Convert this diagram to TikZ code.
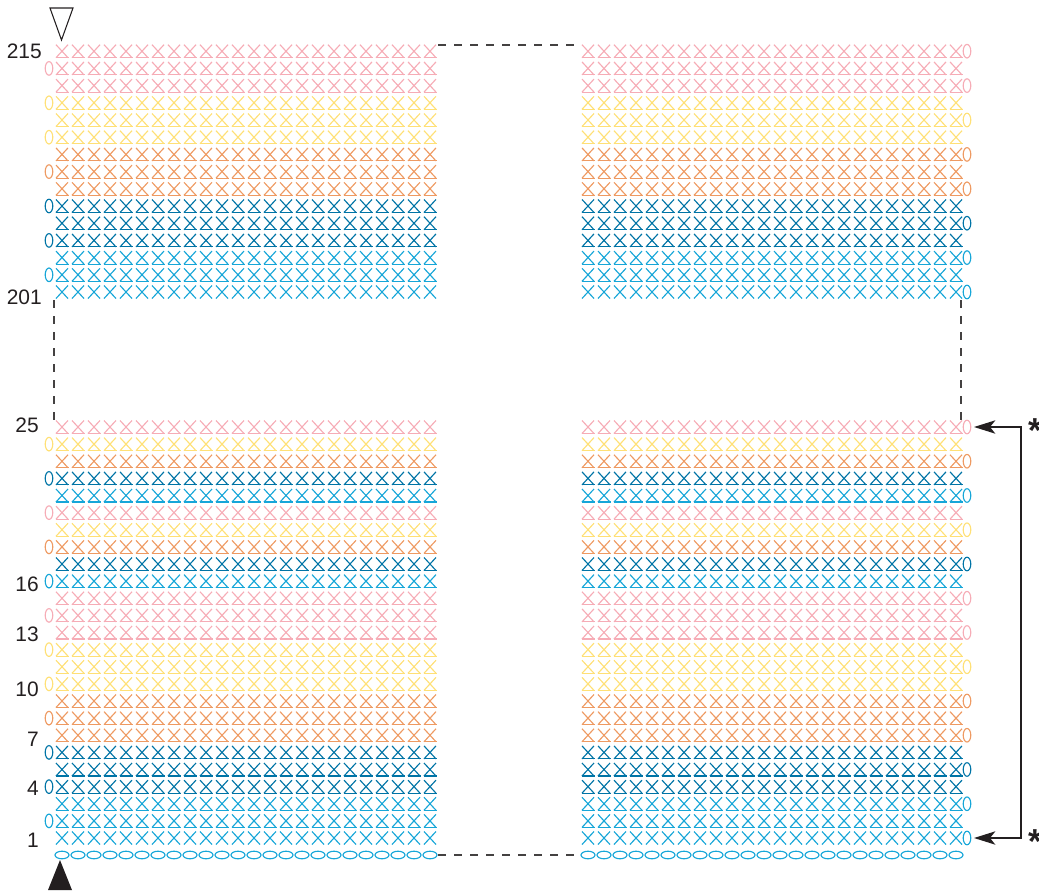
\documentclass[tikz,border=0pt]{standalone}
\usepackage{fontspec}
\setmainfont{Liberation Sans}
\usetikzlibrary{arrows.meta}
\definecolor{cpink}{RGB}{246,172,182}
\definecolor{cyel}{RGB}{255,224,118}
\definecolor{corg}{RGB}{238,154,98}
\definecolor{cdark}{RGB}{0,116,166}
\definecolor{clight}{RGB}{22,166,216}
\definecolor{ink}{RGB}{35,31,32}
\tikzset{
  sym/.style={line width=0.85pt},
  xs/.pic={\draw[sym] (-6,-6.5)--(6,6.5) (6,-6.5)--(-6,6.5);},
  bl/.pic={\draw[sym] (-6.5,6.5)--(6.5,6.5);},
  ch/.pic={\draw[sym] (0,0) ellipse[x radius=7,y radius=3.8];},
  tc/.pic={\draw[sym] (0,0) ellipse[x radius=3.8,y radius=6.8];},
  dashline/.style={draw=ink!85, line width=0.85pt, dash pattern=on 6pt off 6pt},
  rowlabel/.style={anchor=east, inner sep=0pt, text=ink, font=\fontsize{15.7}{18}\selectfont},
  star/.style={anchor=base, inner sep=0pt, text=ink, font=\fontsize{26}{30}\selectfont\bfseries},
  bracket/.style={draw=ink, line width=1.1pt, {Stealth[length=16pt,width=10pt,inset=4pt]}-{Stealth[length=16pt,width=10pt,inset=4pt]}}
}
\begin{document}
\begin{tikzpicture}[x=0.75pt,y=-0.75pt]
\useasboundingbox (0,0) rectangle (1039,893);
% bottom section rows 1..25
\foreach \r/\cc in {1/clight,2/clight,3/clight,4/cdark,5/cdark,6/cdark,7/corg,8/corg,9/corg,10/cyel,11/cyel,12/cyel,13/cpink,14/cpink,15/cpink,16/clight,17/cdark,18/corg,19/cyel,20/cpink,21/clight,22/cdark,23/corg,24/cyel,25/cpink}{
  \pgfmathsetmacro\yy{838-(\r-1)*17.125}
  \pgfmathtruncatemacro\odd{mod(\r,2)}
  \foreach \k in {0,...,23}{
    \pic[color=\cc] at ({62+16*\k},\yy) {xs};
    \pic[color=\cc] at ({588+16*\k},\yy) {xs};
    \ifnum\r>1
      \pic[color=\cc] at ({62+16*\k},\yy) {bl};
      \pic[color=\cc] at ({588+16*\k},\yy) {bl};
    \fi
  }
  \ifnum\odd=1
    \pic[color=\cc] at (967,\yy) {tc};
  \else
    \pic[color=\cc] at (49,\yy) {tc};
  \fi
}
% top section rows 201..215
\foreach \r/\cc in {201/clight,202/clight,203/clight,204/cdark,205/cdark,206/cdark,207/corg,208/corg,209/corg,210/cyel,211/cyel,212/cyel,213/cpink,214/cpink,215/cpink}{
  \pgfmathsetmacro\yy{292-(\r-201)*17.2}
  \pgfmathtruncatemacro\odd{mod(\r,2)}
  \foreach \k in {0,...,23}{
    \pic[color=\cc] at ({62+16*\k},\yy) {xs};
    \pic[color=\cc] at ({588+16*\k},\yy) {xs};
    \ifnum\r>201
      \pic[color=\cc] at ({62+16*\k},\yy) {bl};
      \pic[color=\cc] at ({588+16*\k},\yy) {bl};
    \fi
  }
  \ifnum\odd=1
    \pic[color=\cc] at (967,\yy) {tc};
  \else
    \pic[color=\cc] at (49,\yy) {tc};
  \fi
}
% foundation chain
\foreach \k in {0,...,23}{
  \pic[color=clight] at ({62+16*\k},855) {ch};
  \pic[color=clight] at ({588+16*\k},855) {ch};
}
% dashed omissions
\coordinate (tl) at (438,45);  \coordinate (tr) at (580,45);
\coordinate (bl) at (438,855); \coordinate (br) at (580,855);
\coordinate (lu) at (54,300);  \coordinate (ld) at (54,420);
\coordinate (ru) at (961,300); \coordinate (rd) at (961,420);
\draw[dashline] (tl) -- (tr);
\draw[dashline] (bl) -- (br);
\draw[dashline] (lu) -- (ld);
\draw[dashline] (ru) -- (rd);
% triangles
\draw[ink, line width=0.8pt, line join=miter] (50,8) -- (73,8) -- (61.5,40) -- cycle;
\fill[ink] (48,890) -- (72,890) -- (60,860) -- cycle;
% row labels
\node[rowlabel] (l215) at (42,51) {215};
\node[rowlabel] (l201) at (42,297) {201};
\node[rowlabel] (l25) at (39,425) {25};
\node[rowlabel] (l16) at (39,584) {16};
\node[rowlabel] (l13) at (39,634) {13};
\node[rowlabel] (l10) at (39,689) {10};
\node[rowlabel] (l7) at (39,739) {7};
\node[rowlabel] (l4) at (39,788) {4};
\node[rowlabel] (l1) at (39,840) {1};
% repeat bracket
\coordinate (atop) at (974,427);
\coordinate (abot) at (974,838);
\draw[bracket] (atop) -- (1021,427) -- (1021,838) -- (abot);
\node[star] (s1) at (1035,442) {*};
\node[star] (s2) at (1035,853) {*};
\end{tikzpicture}
\end{document}
